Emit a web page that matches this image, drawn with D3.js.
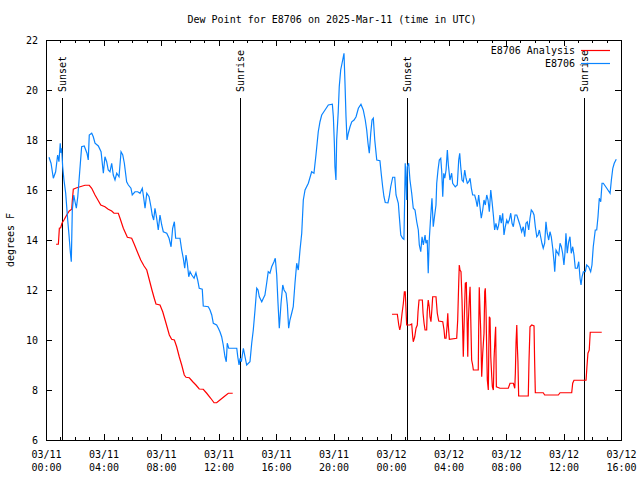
<!DOCTYPE html>
<html><head><meta charset="utf-8">
<script src="https://cdn.jsdelivr.net/npm/d3@7"></script>
<style>
html,body{margin:0;padding:0;background:#fff;}
text{font-family:"DejaVu Sans Mono","Liberation Mono",monospace;font-size:10px;fill:#000;}
</style></head>
<body><svg id="c" width="640" height="480"></svg>
<script>
// ---- data (hours since 03/11 00:00 UTC) ----
const titleText = "Dew Point for E8706 on 2025-Mar-11 (time in UTC)";
const yLabel = "degrees F";
const seriesNames = ["E8706 Analysis", "E8706"];
const xTickHours = [0,4,8,12,16,20,24,28,32,36,40];
const xTickDates = ["03/11","03/11","03/11","03/11","03/11","03/11","03/12","03/12","03/12","03/12","03/12"];
const xTickTimes = ["00:00","04:00","08:00","12:00","16:00","20:00","00:00","04:00","08:00","12:00","16:00"];
const yTicks = [6,8,10,12,14,16,18,20,22];
const sunHours = [1.13, 13.52, 25.13, 37.45];
const sunLabels = ["Sunset","Sunrise","Sunset","Sunrise"];

const obsHours = [0.21,0.35,0.51,0.67,0.81,0.90,0.99,1.04,1.09,1.16,1.25,1.37,1.51,1.60,1.69,1.76,1.83,1.93,2.02,2.11,2.21,2.30,2.39,2.48,2.66,2.85,2.94,3.01,3.18,3.29,3.41,3.64,3.83,3.99,4.10,4.22,4.33,4.45,4.57,4.68,4.80,4.92,5.08,5.22,5.34,5.45,5.61,5.73,5.91,6.00,6.19,6.38,6.54,6.70,6.80,6.89,7.01,7.17,7.30,7.39,7.49,7.58,7.70,7.81,7.93,8.05,8.16,8.40,8.56,8.70,8.81,8.93,9.02,9.32,9.44,9.55,9.65,9.74,9.83,9.93,10.02,10.14,10.30,10.43,10.55,10.66,10.87,10.94,11.29,11.41,11.53,11.64,11.87,11.99,12.10,12.22,12.33,12.45,12.54,12.61,12.71,13.27,13.34,13.43,13.50,13.59,13.73,13.82,13.96,14.19,14.31,14.42,14.54,14.66,14.75,14.84,15.01,15.12,15.23,15.35,15.46,15.58,15.70,15.86,15.95,16.05,16.14,16.23,16.35,16.47,16.56,16.70,16.79,16.88,16.97,17.09,17.20,17.32,17.44,17.55,17.67,17.79,17.90,18.02,18.25,18.48,18.64,18.78,18.94,19.06,19.18,19.41,19.64,19.92,19.99,20.06,20.10,20.17,20.22,20.33,20.40,20.50,20.64,20.73,20.80,20.87,20.94,21.03,21.15,21.27,21.43,21.57,21.73,21.91,22.07,22.21,22.31,22.40,22.49,22.59,22.68,22.77,22.87,23.01,23.23,23.33,23.42,23.51,23.60,23.79,23.88,23.98,24.12,24.26,24.35,24.51,24.58,24.68,24.81,24.90,24.95,24.99,25.04,25.09,25.13,25.23,25.32,25.44,25.55,25.67,25.79,25.90,25.97,26.07,26.16,26.25,26.37,26.43,26.52,26.59,26.66,26.76,26.85,26.94,27.04,27.13,27.18,27.27,27.36,27.46,27.53,27.60,27.67,27.74,27.83,27.92,27.99,28.10,28.22,28.29,28.47,28.61,28.71,28.78,28.85,28.94,29.03,29.13,29.22,29.31,29.41,29.50,29.59,29.68,29.82,29.91,30.00,30.10,30.19,30.28,30.38,30.47,30.56,30.66,30.75,30.84,30.94,31.03,31.12,31.21,31.30,31.40,31.49,31.58,31.67,31.77,31.86,31.95,32.05,32.14,32.23,32.33,32.42,32.51,32.63,32.75,32.86,32.97,33.09,33.20,33.30,33.39,33.48,33.58,33.67,33.76,33.86,33.95,34.04,34.14,34.23,34.32,34.41,34.50,34.59,34.69,34.78,34.87,34.97,35.06,35.15,35.25,35.34,35.39,35.48,35.67,35.76,35.85,35.94,36.03,36.10,36.17,36.26,36.36,36.45,36.54,36.64,36.73,36.82,36.96,37.06,37.15,37.22,37.29,37.38,37.52,37.61,37.75,37.89,37.98,38.07,38.21,38.31,38.40,38.49,38.59,38.68,38.77,39.01,39.24,39.33,39.43,39.53,39.67];
const obsDew = [17.31,17.07,16.47,16.73,17.4,17.13,17.87,17.48,17.67,16.93,16.4,15.87,14.8,14.2,13.53,13.13,15.2,15.8,15.53,15.27,15.73,16.4,17.07,17.73,17.76,17.47,17.2,18.2,18.27,18.13,17.87,17.76,17.53,16.67,17.33,17.13,16.8,16.73,17.07,16.6,16.4,16.67,16.53,17.53,17.4,17.07,16.33,16.2,16.07,15.8,15.93,15.93,15.87,16.07,15.67,15.27,15.87,15.73,15.33,15.0,14.8,15.27,14.87,14.4,15.0,14.6,14.33,14.27,14.07,13.73,14.47,14.73,14.07,14.07,13.6,13.27,12.87,13.4,13.07,12.53,12.73,12.6,12.47,12.69,12.4,12.07,12.03,11.36,11.33,11.2,11.0,10.67,10.6,10.47,10.33,10.13,9.8,9.33,9.13,9.87,9.67,9.67,9.33,9.0,9.27,9.13,9.67,9.4,9.0,9.13,9.87,10.4,11.2,12.07,12.0,11.73,11.53,11.67,11.8,12.27,12.73,12.67,12.93,13.13,13.27,12.6,11.47,10.47,11.47,12.2,12.0,11.87,11.4,10.47,10.8,11.07,11.33,12.27,13.07,12.8,13.6,14.27,15.6,16.0,16.27,16.73,16.67,17.4,18.33,18.73,19.0,19.2,19.4,19.43,18.93,17.87,16.93,16.4,18.0,19.13,20.13,20.8,21.2,21.47,20.27,18.93,18.0,18.27,18.53,18.73,18.8,18.93,19.27,19.43,19.2,18.8,18.4,17.87,17.47,18.27,18.8,18.87,18.0,17.2,17.17,16.6,16.13,15.73,15.5,15.49,15.73,16.13,16.51,16.51,15.8,15.47,14.93,14.2,14.07,14.03,15.6,17.07,16.4,15.6,16.93,17.07,16.4,15.87,15.27,15.2,14.73,14.4,13.8,13.53,14.13,13.8,14.2,13.87,14.0,12.67,14.0,14.93,15.67,14.53,15.0,15.4,16.27,16.8,17.2,17.27,16.73,15.73,16.67,16.47,16.8,17.6,17.0,16.4,16.67,16.27,16.13,16.2,17.2,17.47,16.93,16.4,16.33,16.8,16.47,16.27,16.33,16.47,16.07,15.8,15.8,15.6,15.33,15.8,15.33,14.87,15.2,15.6,15.4,15.8,15.6,15.13,16.0,15.53,15.0,14.4,14.67,14.4,14.6,15.0,14.67,15.07,14.2,14.53,14.8,14.67,14.8,15.07,14.67,14.53,15.0,15.0,14.8,14.6,14.33,14.53,14.13,14.67,14.73,14.4,14.87,15.2,15.13,15.0,14.53,14.13,14.2,14.4,14.13,13.87,13.67,13.87,14.73,14.27,14.0,14.33,14.13,13.67,13.13,12.73,13.6,13.4,13.87,13.73,13.47,13.0,13.47,14.27,13.47,13.93,14.13,13.47,13.73,13.4,12.87,12.87,13.13,12.47,12.2,12.53,12.73,12.73,13.0,12.93,12.73,13.0,13.73,14.4,14.4,14.93,15.67,15.53,16.27,16.27,16.07,15.87,16.4,16.87,17.07,17.23];

// analysis: null separates the two runs
const anaHours = [0.70,0.86,0.93,1.02,1.11,1.25,1.44,1.62,1.79,1.83,1.90,2.14,2.37,2.71,3.01,3.18,3.41,3.64,3.81,4.10,4.33,4.57,4.73,5.03,5.15,5.38,5.66,5.96,6.14,6.35,6.59,6.82,7.01,7.19,7.37,7.53,7.65,7.93,8.12,8.35,8.58,8.74,8.93,9.09,9.27,9.44,9.62,9.74,9.97,10.21,10.43,10.66,10.94,11.18,11.46,11.69,11.87,12.10,12.38,12.68,12.99,
  null,
  24.07,24.44,24.54,24.61,24.68,24.77,24.86,24.93,24.99,25.04,25.09,25.32,25.44,25.51,25.55,25.65,25.74,25.83,25.88,25.95,26.18,26.23,26.30,26.37,26.48,26.52,26.59,26.66,26.71,26.78,26.85,26.90,27.13,27.22,27.32,27.60,27.69,27.74,27.83,27.90,27.95,27.99,28.06,28.57,28.64,28.71,28.75,28.80,28.87,28.94,29.03,29.10,29.17,29.24,29.29,29.34,29.38,29.45,29.50,29.55,29.61,29.68,29.73,30.07,30.10,30.14,30.19,30.24,30.31,30.38,30.47,30.52,30.56,30.61,30.66,30.70,30.77,30.80,30.84,30.89,30.94,31.01,31.05,31.12,31.17,31.24,31.28,31.33,31.58,32.16,32.28,32.51,32.61,32.65,32.70,32.75,32.79,32.83,32.88,33.55,33.60,33.67,33.79,33.95,33.99,34.04,34.59,34.69,35.64,35.76,36.57,36.64,36.73,37.57,37.63,37.70,37.79,37.86,38.66];
const anaDew = [13.83,13.83,14.47,14.49,14.67,14.8,15.0,15.16,15.23,15.57,16.03,16.09,16.13,16.19,16.19,16.07,15.8,15.57,15.4,15.33,15.23,15.16,15.07,15.07,14.87,14.47,14.11,14.07,13.83,13.53,13.2,12.96,12.8,12.4,12.0,11.67,11.44,11.4,11.13,10.67,10.2,10.03,10.0,9.73,9.33,9.0,8.6,8.51,8.49,8.33,8.2,8.04,8.03,7.87,7.67,7.49,7.49,7.6,7.73,7.87,7.87,
  null,
  11.03,11.03,10.6,10.4,10.6,11.07,11.47,11.93,11.93,11.27,10.6,10.6,10.64,10.13,9.93,10.13,10.47,10.6,11.13,11.6,11.6,11.07,10.67,10.4,10.4,11.13,11.6,11.33,10.93,10.73,11.27,11.73,11.73,11.07,10.76,10.73,10.4,10.07,10.07,10.56,11.07,10.56,10.03,10.07,10.8,12.27,13.0,12.8,12.73,11.6,9.33,10.93,12.27,12.29,10.8,9.33,10.73,11.67,12.13,10.8,9.2,9.0,8.8,8.8,10.4,12.11,11.2,10.4,8.53,9.47,10.27,11.93,12.07,11.2,9.53,8.4,8.0,9.47,10.93,10.87,9.33,8.53,8.13,8.0,9.27,10.13,10.53,8.13,8.07,8.07,8.27,8.27,8.07,8.67,9.93,10.6,9.73,9.16,7.76,7.76,9.16,10.53,10.6,10.56,9.2,7.89,7.89,7.8,7.8,7.89,7.89,8.27,8.39,8.39,8.93,9.47,9.6,10.31,10.31];

const colors = {analysis: "#ff0000", obs: "#0a84ff"};

// ---- drawing ----
const svg = d3.select("#c");
const L = 46, R = 621, T = 40, B = 440;
const x = d3.scaleLinear().domain([0, 40]).range([L, R]);
const y = d3.scaleLinear().domain([6, 22]).range([B, T]);

svg.append("text").attr("x", 332).attr("y", 23).attr("text-anchor", "middle").text(titleText);
svg.append("text").attr("transform", "translate(14,240) rotate(-90)").attr("text-anchor", "middle").text(yLabel);

const g = svg.append("g").attr("shape-rendering", "crispEdges");

// minor x ticks (hourly) bottom & top
const minor = d3.range(0, 41).filter(h => h % 4 !== 0);
g.selectAll(".mb").data(minor).join("line")
  .attr("x1", d => Math.round(x(d)) + 0.5).attr("x2", d => Math.round(x(d)) + 0.5)
  .attr("y1", B).attr("y2", B - 3).attr("stroke", "#000");
g.selectAll(".mt").data(minor).join("line")
  .attr("x1", d => Math.round(x(d)) + 0.5).attr("x2", d => Math.round(x(d)) + 0.5)
  .attr("y1", T).attr("y2", T + 3).attr("stroke", "#000");

// axes via d3
const xb = g.append("g").attr("transform", `translate(0,${B})`)
  .call(d3.axisBottom(x).tickValues(xTickHours).tickSize(-6).tickPadding(8).tickFormat(""));
const xt = g.append("g").attr("transform", `translate(0,${T})`)
  .call(d3.axisTop(x).tickValues(xTickHours).tickSize(-6).tickFormat(""));
const yl = g.append("g").attr("transform", `translate(${L},0)`)
  .call(d3.axisLeft(y).tickValues(yTicks).tickSize(-6).tickPadding(8).tickFormat(d3.format("d")));
const yr = g.append("g").attr("transform", `translate(${R},0)`)
  .call(d3.axisRight(y).tickValues(yTicks).tickSize(-6).tickFormat(""));
[xb, xt, yl, yr].forEach(a => { a.select(".domain").remove(); a.selectAll("text").style("font-size", "10px").style("font-family", '"DejaVu Sans Mono",monospace'); });
yl.selectAll("text").attr("dy", "0.35em");

// two-line x labels
xb.selectAll(".tick").each(function(d, i) {
  const t = d3.select(this).append("text").attr("text-anchor", "middle").attr("fill", "#000");
  t.append("tspan").attr("x", 0).attr("y", 18).text(xTickDates[i]);
  t.append("tspan").attr("x", 0).attr("y", 31).text(xTickTimes[i]);
});

// frame
g.append("rect").attr("x", L + 0.5).attr("y", T + 0.5).attr("width", R - L).attr("height", B - T)
  .attr("fill", "none").attr("stroke", "#000");

// sun lines
sunHours.forEach((h, i) => {
  const xp = Math.round(x(h)) + 0.5;
  g.append("line").attr("x1", xp).attr("x2", xp).attr("y1", 98).attr("y2", B).attr("stroke", "#000").attr("stroke-width", 1.3);
  svg.append("text").attr("transform", `translate(${xp + 3.5},92) rotate(-90)`).attr("text-anchor", "start").text(sunLabels[i]);
});

// series
const obsData = obsHours.map((h, i) => ({h, v: obsDew[i]}));
const anaData = anaHours.map((h, i) => ({h, v: anaDew[i]}));
const line = d3.line().defined(d => d.h != null && d.v != null).x(d => x(d.h)).y(d => y(d.v));

svg.append("path").datum(anaData).attr("d", line).attr("fill", "none").attr("stroke", colors.analysis).attr("stroke-width", 1.2);
svg.append("path").datum(obsData).attr("d", line).attr("fill", "none").attr("stroke", colors.obs).attr("stroke-width", 1.2);

// legend
const leg = [[seriesNames[0], colors.analysis, 50], [seriesNames[1], colors.obs, 63]];
leg.forEach(([name, col, yy]) => {
  svg.append("text").attr("x", 575).attr("y", yy).attr("dy", "0.35em").attr("text-anchor", "end").text(name);
  svg.append("line").attr("x1", 581).attr("x2", 610).attr("y1", yy + 0.5).attr("y2", yy + 0.5).attr("stroke", col).attr("stroke-width", 1.2);
});
</script></body></html>
